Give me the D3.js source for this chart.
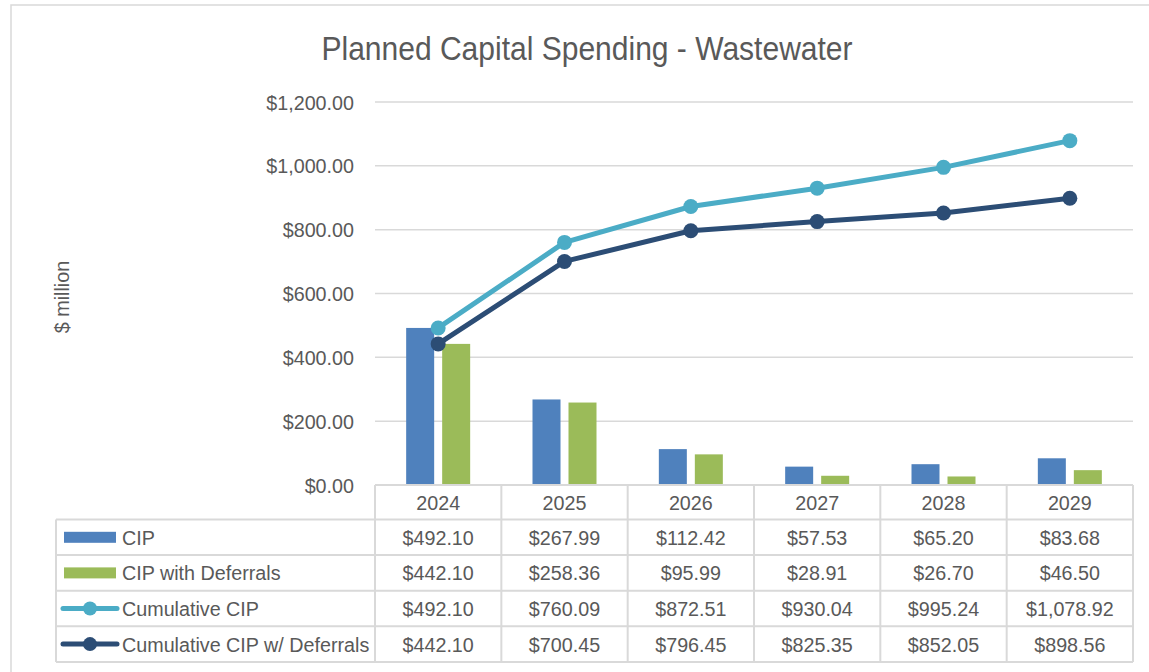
<!DOCTYPE html>
<html>
<head>
<meta charset="utf-8">
<script src="https://cdn.jsdelivr.net/npm/d3@7"></script>
<style>
  body { margin: 0; background: #fff; }
  text { font-family: "Liberation Sans", Arial, sans-serif; fill: #595959; }
</style>
</head>
<body>
<div id="chart"></div>
<script>
// data
const years = ['2024', '2025', '2026', '2027', '2028', '2029'];
const cip = [492.10, 267.99, 112.42, 57.53, 65.20, 83.68];
const cipDeferrals = [442.10, 258.36, 95.99, 28.91, 26.70, 46.50];
const cumulativeCip = [492.10, 760.09, 872.51, 930.04, 995.24, 1078.92];
const cumulativeDeferrals = [442.10, 700.45, 796.45, 825.35, 852.05, 898.56];
const yTicks = [0, 200, 400, 600, 800, 1000, 1200];

const width = 1149, height = 672;
const plot = { left: 375, right: 1133, top: 102, bottom: 485 };
const rowH = 35.6;
const sx = 0.94; // the original font is a bit narrower than Liberation Sans

const money = v => '$' + d3.format(',.2f')(v);
// place condensed text at (px, py)
const at = (px, py) => `translate(${px},${py}) scale(${sx},1)`;

const series = [
  { name: 'CIP', values: cip, type: 'bar', color: '#4f81bd' },
  { name: 'CIP with Deferrals', values: cipDeferrals, type: 'bar', color: '#9bbb59' },
  { name: 'Cumulative CIP', values: cumulativeCip, type: 'line', color: '#4bacc6' },
  { name: 'Cumulative CIP w/ Deferrals', values: cumulativeDeferrals, type: 'line', color: '#2c4d75' }
];

const svg = d3.select('#chart').append('svg')
  .attr('width', width)
  .attr('height', height);

// outer chart border
svg.append('rect')
  .attr('x', 11).attr('y', 5)
  .attr('width', width).attr('height', height)
  .attr('fill', 'none')
  .attr('stroke', '#d9d9d9')
  .attr('stroke-width', 1.5);

svg.append('text')
  .attr('transform', `translate(587,60) scale(0.91,1)`)
  .attr('text-anchor', 'middle')
  .style('font-size', '33px')
  .text('Planned Capital Spending - Wastewater');

const x = d3.scaleBand()
  .domain(years)
  .range([plot.left, plot.right]);

const y = d3.scaleLinear()
  .domain([0, 1200])
  .range([plot.bottom, plot.top]);

// grid + tick labels
svg.append('g')
  .selectAll('line')
  .data(yTicks)
  .enter()
  .append('line')
  .attr('x1', plot.left).attr('x2', plot.right)
  .attr('y1', d => y(d)).attr('y2', d => y(d))
  .attr('stroke', '#d9d9d9')
  .attr('stroke-width', 1.5);

svg.append('g')
  .selectAll('text')
  .data(yTicks)
  .enter()
  .append('text')
  .attr('transform', d => at(354, y(d) + 7.5))
  .attr('text-anchor', 'end')
  .style('font-size', '21px')
  .text(d => money(d));

svg.append('text')
  .attr('transform', 'translate(69,297) rotate(-90) scale(0.94,1)')
  .attr('text-anchor', 'middle')
  .style('font-size', '21px')
  .text('$ million');

// bars
const barSeries = series.filter(s => s.type === 'bar');
const x1 = d3.scaleBand()
  .domain(barSeries.map(s => s.name))
  .range([-32, 32])
  .paddingInner(8 / 36);

barSeries.forEach(s => {
  svg.append('g')
    .selectAll('rect')
    .data(years)
    .enter()
    .append('rect')
    .attr('x', (d, i) => x(d) + x.bandwidth() / 2 + x1(s.name))
    .attr('y', (d, i) => y(s.values[i]))
    .attr('width', x1.bandwidth())
    .attr('height', (d, i) => y(0) - y(s.values[i]))
    .attr('fill', s.color);
});

// lines
const line = d3.line()
  .x((d, i) => x(years[i]) + x.bandwidth() / 2)
  .y(d => y(d));

series.filter(s => s.type === 'line').forEach(s => {
  svg.append('path')
    .datum(s.values)
    .attr('d', line)
    .attr('fill', 'none')
    .attr('stroke', s.color)
    .attr('stroke-width', 5)
    .attr('stroke-linejoin', 'round');
  svg.append('g')
    .selectAll('circle')
    .data(s.values)
    .enter()
    .append('circle')
    .attr('cx', (d, i) => x(years[i]) + x.bandwidth() / 2)
    .attr('cy', d => y(d))
    .attr('r', 7.5)
    .attr('fill', s.color);
});

// data table
const tableTop = plot.bottom;
const tableLeft = 56;
const headerH = 34.5;
const grid = svg.append('g')
  .attr('stroke', '#d9d9d9')
  .attr('stroke-width', 2);

// header row lines
grid.append('line')
  .attr('x1', plot.left).attr('x2', plot.right)
  .attr('y1', tableTop).attr('y2', tableTop);
// row lines
d3.range(series.length + 1).forEach(r => {
  const yy = tableTop + headerH + r * rowH;
  grid.append('line')
    .attr('x1', tableLeft).attr('x2', plot.right)
    .attr('y1', yy).attr('y2', yy);
});
const tableBottom = tableTop + headerH + series.length * rowH;
grid.append('line')
  .attr('x1', tableLeft).attr('x2', tableLeft)
  .attr('y1', tableTop + headerH).attr('y2', tableBottom);
years.forEach(yr => {
  grid.append('line')
    .attr('x1', x(yr)).attr('x2', x(yr))
    .attr('y1', tableTop).attr('y2', tableBottom);
});
grid.append('line')
  .attr('x1', plot.right).attr('x2', plot.right)
  .attr('y1', tableTop).attr('y2', tableBottom);

svg.append('g')
  .selectAll('text')
  .data(years)
  .enter()
  .append('text')
  .attr('transform', d => at(x(d) + x.bandwidth() / 2, tableTop + headerH / 2 + 7.5))
  .attr('text-anchor', 'middle')
  .style('font-size', '21px')
  .text(d => d);

series.forEach((s, r) => {
  const cy = tableTop + headerH + r * rowH + rowH / 2;
  const row = svg.append('g');
  if (s.type === 'bar') {
    row.append('rect')
      .attr('x', 64).attr('y', cy - 5.5)
      .attr('width', 52).attr('height', 11)
      .attr('fill', s.color);
  } else {
    row.append('line')
      .attr('x1', 63).attr('x2', 117)
      .attr('y1', cy).attr('y2', cy)
      .attr('stroke', s.color)
      .attr('stroke-width', 5)
      .attr('stroke-linecap', 'round');
    row.append('circle')
      .attr('cx', 90).attr('cy', cy).attr('r', 7)
      .attr('fill', s.color);
  }
  row.append('text')
    .attr('transform', at(122, cy + 7.5))
    .style('font-size', '21px')
    .text(s.name);
  row.selectAll('text.val')
    .data(s.values)
    .enter()
    .append('text')
    .attr('class', 'val')
    .attr('transform', (d, i) => at(x(years[i]) + x.bandwidth() / 2, cy + 7.5))
    .attr('text-anchor', 'middle')
    .style('font-size', '21px')
    .text(d => money(d));
});
</script>
</body>
</html>
